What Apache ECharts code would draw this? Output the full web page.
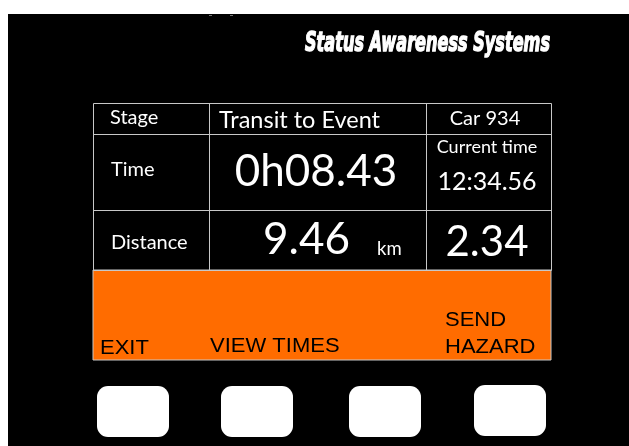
<!DOCTYPE html>
<html>
<head>
<meta charset="utf-8">
<script src="https://cdn.jsdelivr.net/npm/echarts@6/dist/echarts.min.js"></script>
<style>html,body{margin:0;padding:0;background:#fff}#c{width:629px;height:446px}</style>
</head>
<body>
<div id="c"></div>
<script>
// ---- content ----
const brand = 'Status Awareness Systems';
const headerRow = ['Stage', 'Transit to Event', 'Car 934'];
const rowLabels = ['Time', 'Distance'];
const timeRow = ['0h08.43', 'Current time', '12:34.56'];
const distanceRow = ['9.46', 'km', '2.34'];
const softKeys = ['EXIT', 'VIEW TIMES', 'SEND', 'HAZARD'];
const buttonCount = 4;

// ---- layout / style ----
const F_TABLE = 'Lato, "Open Sans", sans-serif';
const F_KEYS = '"Liberation Sans", Arial, sans-serif';
const GRID = '#c8c8c8';
const ORANGE = '#ff6c00';

const chart = echarts.init(document.getElementById('c'), null, {renderer: 'canvas'});

function txt(x, y, text, size, opts) {
  opts = opts || {};
  return {
    type: 'text', x: x, y: y, silent: true,
    scaleX: opts.scaleX || 1,
    style: {
      x: 0, y: 0, text: text,
      fill: opts.fill || '#fff',
      font: (opts.style || '') + ' ' + (opts.weight || 'normal') + ' ' + size + 'px ' + (opts.family || F_TABLE),
      align: opts.align || 'left',
      verticalAlign: 'middle'
    }
  };
}

// measure brand width to squeeze into condensed shape
const cv = document.createElement('canvas').getContext('2d');
const brandFont = 'italic bold 26px "DejaVu Sans", sans-serif';
cv.font = brandFont;
const brandW = cv.measureText(brand).width;
const brandScale = 245 / brandW;

const L = 93, R = 551, T = 103, C1 = 209, C2 = 426, H1 = 134, H2 = 210, B = 270, OB = 360;

const els = [];
els.push({type: 'rect', shape: {x: 8, y: 14, width: 621, height: 432}, style: {fill: '#000'}, silent: true});
els.push({type: 'rect', shape: {x: 209, y: 15, width: 3, height: 1}, style: {fill: '#777'}, silent: true});
els.push({type: 'rect', shape: {x: 230, y: 15, width: 3, height: 1}, style: {fill: '#777'}, silent: true});

// brand
els.push({
  type: 'text', x: 550, y: 44, scaleX: brandScale, silent: true,
  style: {x: 0, y: 0, text: brand, fill: '#fff', stroke: '#fff', lineWidth: 1.4, font: brandFont, align: 'right', verticalAlign: 'middle'}
});

// orange soft-key panel
els.push({type: 'rect', shape: {x: L, y: B, width: R - L, height: OB - B}, style: {fill: ORANGE, stroke: GRID, lineWidth: 1}, silent: true});

// table grid
els.push({type: 'rect', shape: {x: L + 0.5, y: T + 0.5, width: R - L, height: B - T}, style: {fill: 'none', stroke: GRID, lineWidth: 1}, silent: true});
[H1, H2].forEach(function (y) {
  els.push({type: 'line', shape: {x1: L, y1: y + 0.5, x2: R + 1, y2: y + 0.5}, style: {stroke: GRID, lineWidth: 1}, silent: true});
});
[C1, C2].forEach(function (x) {
  els.push({type: 'line', shape: {x1: x + 0.5, y1: T, x2: x + 0.5, y2: B}, style: {stroke: GRID, lineWidth: 1}, silent: true});
});

// header row
els.push(txt(110, 118, headerRow[0], 20));
els.push(txt(219, 120, headerRow[1], 23.5));
els.push(txt(485, 119, headerRow[2], 20, {align: 'center'}));

// time row
els.push(txt(111, 170, rowLabels[0], 20));
els.push(txt(316, 172, timeRow[0], 44, {align: 'center'}));
els.push(txt(487, 147, timeRow[1], 18, {align: 'center'}));
els.push(txt(487, 182, timeRow[2], 25, {align: 'center'}));

// distance row
els.push(txt(111, 243, rowLabels[1], 20));
els.push(txt(263, 240, distanceRow[0], 44));
els.push(txt(377, 249, distanceRow[1], 18.5));
els.push(txt(487, 242, distanceRow[2], 42, {align: 'center'}));

// soft keys
const keyOpts = {family: F_KEYS, fill: '#000', scaleX: 1.1};
els.push(txt(100, 348, softKeys[0], 20, keyOpts));
els.push(txt(210, 346, softKeys[1], 20, keyOpts));
els.push(txt(445, 320, softKeys[2], 20, keyOpts));
els.push(txt(445, 347, softKeys[3], 20, keyOpts));

// hardware buttons
const btnX = [97, 221, 349, 474];
const btnY = [386, 386, 386, 385];
for (let i = 0; i < buttonCount; i++) {
  els.push({type: 'rect', shape: {x: btnX[i], y: btnY[i], width: 72, height: 51, r: 11}, style: {fill: '#fff'}, silent: true});
}

chart.setOption({
  backgroundColor: '#fff',
  animation: false,
  graphic: {elements: els}
});
</script>
</body>
</html>
